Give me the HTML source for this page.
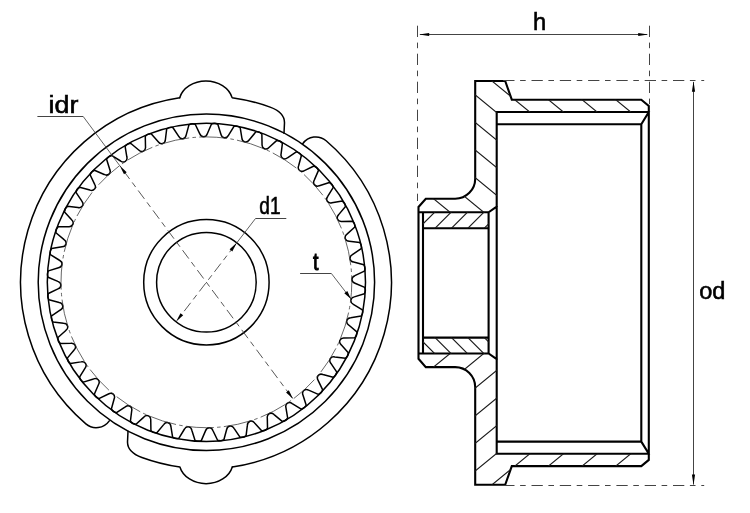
<!DOCTYPE html>
<html><head><meta charset="utf-8"><title>Diagram</title>
<style>
html,body{margin:0;padding:0;background:#fff;}
body{width:750px;height:513px;overflow:hidden;font-family:"Liberation Sans",sans-serif;}
svg{display:block;}
</style></head><body>
<svg width="750" height="513" viewBox="0 0 750 513">
<rect width="750" height="513" fill="#fff"/>
<g fill="none" stroke="#000" stroke-width="1.5" stroke-linecap="round" stroke-linejoin="round">
<circle cx="206.4" cy="282.3" r="62.7"/>
<circle cx="206.4" cy="282.3" r="49.8"/>
<circle cx="206.4" cy="282.3" r="168.2"/>
<circle cx="206.4" cy="282.3" r="159.1"/>
<path d="M364.4,271.11L354.85,275.69C350.91,277.13 351,281.92 355,283.21L364.72,287.41Q366.18,290.65 364.39,293.71L354.28,296.88C350.17,297.75 349.58,302.5 353.36,304.35L362.38,309.89Q363.37,313.3 361.16,316.08L350.7,317.78C346.51,318.05 345.25,322.68 348.72,325.04L356.86,331.81Q357.36,335.33 354.77,337.76L344.18,337.96C340,337.63 338.09,342.02 341.19,344.86L348.29,352.72Q348.27,356.27 345.37,358.31L334.86,357C330.76,356.08 328.25,360.16 330.92,363.4L336.82,372.19Q336.3,375.71 333.14,377.32L322.92,374.52C319,373.02 315.93,376.71 318.11,380.3L322.7,389.84Q321.69,393.24 318.33,394.39L308.61,390.16C304.94,388.12 301.38,391.33 303.02,395.2L306.21,405.3Q304.73,408.52 301.24,409.17L292.22,403.61C288.88,401.07 284.89,403.74 285.97,407.8L287.69,418.25Q285.76,421.23 282.21,421.38L274.08,414.59C271.14,411.6 266.81,413.68 267.3,417.85L267.52,428.43Q265.18,431.11 261.65,430.75L254.57,422.88C252.08,419.5 247.5,420.94 247.39,425.13L246.1,435.65Q243.41,437.96 239.96,437.1L234.07,428.3C232.09,424.6 227.35,425.37 226.65,429.51L223.87,439.73Q220.88,441.64 217.59,440.3L213.01,430.75C211.57,426.81 206.78,426.9 205.49,430.9L201.29,440.62Q198.05,442.08 194.99,440.29L191.82,430.18C190.95,426.07 186.2,425.48 184.35,429.26L178.81,438.28Q175.4,439.27 172.62,437.06L170.92,426.6C170.65,422.41 166.02,421.15 163.66,424.62L156.89,432.76Q153.37,433.26 150.94,430.67L150.74,420.08C151.07,415.9 146.68,413.99 143.84,417.09L135.98,424.19Q132.43,424.17 130.39,421.27L131.7,410.76C132.62,406.66 128.54,404.15 125.3,406.82L116.51,412.72Q112.99,412.2 111.38,409.04L114.18,398.82C115.68,394.9 111.99,391.83 108.4,394.01L98.86,398.6Q95.46,397.59 94.31,394.23L98.54,384.51C100.58,380.84 97.37,377.28 93.5,378.92L83.4,382.11Q80.18,380.63 79.53,377.14L85.09,368.12C87.63,364.78 84.96,360.79 80.9,361.87L70.45,363.59Q67.47,361.66 67.32,358.11L74.11,349.98C77.1,347.04 75.02,342.71 70.85,343.2L60.27,343.42Q57.59,341.08 57.95,337.55L65.82,330.47C69.2,327.98 67.76,323.4 63.57,323.29L53.05,322Q50.74,319.31 51.6,315.86L60.4,309.97C64.1,307.99 63.33,303.25 59.19,302.55L48.97,299.77Q47.06,296.78 48.4,293.49L57.95,288.91C61.89,287.47 61.8,282.68 57.8,281.39L48.08,277.19Q46.62,273.95 48.41,270.89L58.52,267.72C62.63,266.85 63.22,262.1 59.44,260.25L50.42,254.71Q49.43,251.3 51.64,248.52L62.1,246.82C66.29,246.55 67.55,241.92 64.08,239.56L55.94,232.79Q55.44,229.27 58.03,226.84L68.62,226.64C72.8,226.97 74.71,222.58 71.61,219.74L64.51,211.88Q64.53,208.33 67.43,206.29L77.94,207.6C82.04,208.52 84.55,204.44 81.88,201.2L75.98,192.41Q76.5,188.89 79.66,187.28L89.88,190.08C93.8,191.58 96.87,187.89 94.69,184.3L90.1,174.76Q91.11,171.36 94.47,170.21L104.19,174.44C107.86,176.48 111.42,173.27 109.78,169.4L106.59,159.3Q108.07,156.08 111.56,155.43L120.58,160.99C123.92,163.53 127.91,160.86 126.83,156.8L125.11,146.35Q127.04,143.37 130.59,143.22L138.72,150.01C141.66,153 145.99,150.92 145.5,146.75L145.28,136.17Q147.62,133.49 151.15,133.85L158.23,141.72C160.72,145.1 165.3,143.66 165.41,139.47L166.7,128.95Q169.39,126.64 172.84,127.5L178.73,136.3C180.71,140 185.45,139.23 186.15,135.09L188.93,124.87Q191.92,122.96 195.21,124.3L199.79,133.85C201.23,137.79 206.02,137.7 207.31,133.7L211.51,123.98Q214.75,122.52 217.81,124.31L220.98,134.42C221.85,138.53 226.6,139.12 228.45,135.34L233.99,126.32Q237.4,125.33 240.18,127.54L241.88,138C242.15,142.19 246.78,143.45 249.14,139.98L255.91,131.84Q259.43,131.34 261.86,133.93L262.06,144.52C261.73,148.7 266.12,150.61 268.96,147.51L276.82,140.41Q280.37,140.43 282.41,143.33L281.1,153.84C280.18,157.94 284.26,160.45 287.5,157.78L296.29,151.88Q299.81,152.4 301.42,155.56L298.62,165.78C297.12,169.7 300.81,172.77 304.4,170.59L313.94,166Q317.34,167.01 318.49,170.37L314.26,180.09C312.22,183.76 315.43,187.32 319.3,185.68L329.4,182.49Q332.62,183.97 333.27,187.46L327.71,196.48C325.17,199.82 327.84,203.81 331.9,202.73L342.35,201.01Q345.33,202.94 345.48,206.49L338.69,214.62C335.7,217.56 337.78,221.89 341.95,221.4L352.53,221.18Q355.21,223.52 354.85,227.05L346.98,234.13C343.6,236.62 345.04,241.2 349.23,241.31L359.75,242.6Q362.06,245.29 361.2,248.74L352.4,254.63C348.7,256.61 349.47,261.35 353.61,262.05L363.83,264.83Q365.74,267.82 364.4,271.11Z"/>
<g transform="translate(-0.4 0)"><path d="M180.1,97.66A27,22 0 0 1 232.5,97.64A186.5,186.5 0 0 1 270.5,107.16C278,109.91 284.9,114.96 284.9,122.66L284.4,133.28M303.1,143.75A16,16 0 0 1 326.53,140.74A186.5,186.5 0 0 1 232.7,466.94"/>
<path d="M180.1,97.66A27,22 0 0 1 232.5,97.64A186.5,186.5 0 0 1 270.5,107.16C278,109.91 284.9,114.96 284.9,122.66L284.4,133.28M303.1,143.75A16,16 0 0 1 326.53,140.74A186.5,186.5 0 0 1 232.7,466.94" transform="rotate(180 206.4 282.3)"/></g>
</g>
<circle cx="206.4" cy="282.3" r="145.4" fill="none" stroke="#333" stroke-width="0.75" stroke-dasharray="28 3.3 3.5 3.27" stroke-dashoffset="-30.5"/>
<g fill="none" stroke="#444444" stroke-width="1.0">
<path d="M37.4,116.5L83.2,116.5"/><path d="M83.2,116.5L119.68,165.59" stroke-width="0.85"/>
<path d="M119.68,165.59L293.12,399.01" stroke-dasharray="10.5 4.3 5.7 4.3" stroke-dashoffset="-6.2" stroke-width="0.9"/>
<path d="M286.3,218.5L255.5,218.5"/><path d="M255.5,218.5L236.77,242.83" stroke-width="0.85"/>
<path d="M236.77,242.83L176.03,321.77" stroke-dasharray="10.5 4.3 5.7 4.3" stroke-dashoffset="-1.3" stroke-width="0.9"/>
<path d="M300.1,273.5L331.4,273.5"/><path d="M331.4,273.5L351,298.9" stroke-width="0.85"/>
</g>
<polygon points="119.68,165.59 126.71,172.2 123.98,174.23" fill="#000"/>
<polygon points="293.12,399.01 286.09,392.4 288.82,390.37" fill="#000"/>
<polygon points="236.77,242.83 232.33,251.4 229.63,249.33" fill="#000"/>
<polygon points="176.03,321.77 180.47,313.2 183.17,315.27" fill="#000"/>
<polygon points="351,298.9 344.3,293.33 347.31,291.01" fill="#000"/>
<path d="M475.2,81L505.2,81L511.8,99.7L641.3,99.7L648.8,105.9L648.8,459.9L641.3,466.1L511.8,466.1L505.2,484.8L475.2,484.8L475.2,387.1A20.0,20.0 0 0 0 455.2,367.1L425.8,367.1L418.5,358.8L418.5,207L425.8,198.7L455.2,198.7A20.0,20.0 0 0 0 475.2,178.7ZM496.7,112L648.8,112M496.7,124.2L641.3,124.2L648.8,112M418.5,212.3L488.6,212.3L496.7,206.6M423,228.2L488.6,228.2M496.7,453.8L648.8,453.8M496.7,441.6L641.3,441.6L648.8,453.8M418.5,353.5L488.6,353.5L496.7,359.2M423,337.6L488.6,337.6M496.7,112L496.7,453.8M641.3,124.2L641.3,441.6M423,212.3L423,353.5M488.6,212.3L488.6,353.5" fill="none" stroke="#000" stroke-width="2.1" stroke-linejoin="miter" stroke-linecap="square"/>
<clipPath id="cu"><path d="M475.2,81L505.2,81L511.8,99.7L641.3,99.7L648.8,105.9L648.8,112L496.7,112L496.7,206.6L488.6,212.3L418.5,212.3L418.5,207L425.8,198.7L455.2,198.7A20.0,20.0 0 0 0 475.2,178.7Z"/></clipPath>
<clipPath id="ci"><rect x="423" y="212.3" width="65.6" height="15.9"/></clipPath>
<g fill="none" stroke="#1c1c1c" stroke-width="1.15"><path d="M410,-179.41L660,25.59M410,-151.81L660,53.19M410,-124.21L660,80.79M410,-96.61L660,108.39M410,-69.01L660,135.99M410,-41.41L660,163.59M410,-13.81L660,191.19M410,13.79L660,218.79M410,41.39L660,246.39M410,68.99L660,273.99M410,96.59L660,301.59M410,124.19L660,329.19M410,151.79L660,356.79M410,179.39L660,384.39M410,206.99L660,411.99" clip-path="url(#cu)"/><path d="M397.3,233.2L427.3,203.2M413.7,233.2L443.7,203.2M430.1,233.2L460.1,203.2M446.5,233.2L476.5,203.2M462.9,233.2L492.9,203.2M479.3,233.2L509.3,203.2M495.7,233.2L525.7,203.2" clip-path="url(#ci)"/></g>
<g transform="translate(0 565.8) scale(1 -1)"><g fill="none" stroke="#1c1c1c" stroke-width="1.15"><path d="M410,-179.41L660,25.59M410,-151.81L660,53.19M410,-124.21L660,80.79M410,-96.61L660,108.39M410,-69.01L660,135.99M410,-41.41L660,163.59M410,-13.81L660,191.19M410,13.79L660,218.79M410,41.39L660,246.39M410,68.99L660,273.99M410,96.59L660,301.59M410,124.19L660,329.19M410,151.79L660,356.79M410,179.39L660,384.39M410,206.99L660,411.99" clip-path="url(#cu)"/><path d="M397.3,233.2L427.3,203.2M413.7,233.2L443.7,203.2M430.1,233.2L460.1,203.2M446.5,233.2L476.5,203.2M462.9,233.2L492.9,203.2M479.3,233.2L509.3,203.2M495.7,233.2L525.7,203.2" clip-path="url(#ci)"/></g></g>
<g fill="none" stroke="#444444" stroke-width="1">
<path d="M420,34.5L647,34.5"/>
<path d="M693.5,82L693.5,484.5"/>
<path d="M417.5,25.7L417.5,201" stroke-dasharray="11.3 5.6 5.6 5.5"/>
<path d="M649.5,25.7L649.5,106" stroke-dasharray="11.3 5.6 5.6 5.5"/>
<path d="M503.2,80.5L704.2,80.5" stroke-dasharray="11.3 5.6 5.6 5.8"/>
<path d="M503.2,485.5L704.2,485.5" stroke-dasharray="11.3 5.6 5.6 5.8"/>
</g>
<polygon points="419,34.5 429.2,32.95 429.2,36.05" fill="#000"/>
<polygon points="648.4,34.5 638.2,36.05 638.2,32.95" fill="#000"/>
<polygon points="693.5,81.3 695.1,91.8 691.9,91.8" fill="#000"/>
<polygon points="693.5,485 691.9,474.5 695.1,474.5" fill="#000"/>
<g font-family="Liberation Sans, sans-serif" style="filter:grayscale(1)">
<text x="48.6" y="113.0" font-size="24.6" textLength="29.8" lengthAdjust="spacingAndGlyphs" fill="#000" stroke="#000" stroke-width="0.6">idr</text>
<text x="259.3" y="214.0" font-size="24.6" textLength="21.3" lengthAdjust="spacingAndGlyphs" fill="#000" stroke="#000" stroke-width="0.6">d1</text>
<text x="313.1" y="270.3" font-size="24.6" textLength="5.5" lengthAdjust="spacingAndGlyphs" fill="#000" stroke="#000" stroke-width="0.95">t</text>
<text x="699.2" y="298.5" font-size="24.6" textLength="26.2" lengthAdjust="spacingAndGlyphs" fill="#000" stroke="#000" stroke-width="0.6">od</text>
<text x="533.0" y="30.2" font-size="24.6" textLength="13.2" lengthAdjust="spacingAndGlyphs" fill="#000" stroke="#000" stroke-width="0.6">h</text>
</g>
</svg>
</body></html>
